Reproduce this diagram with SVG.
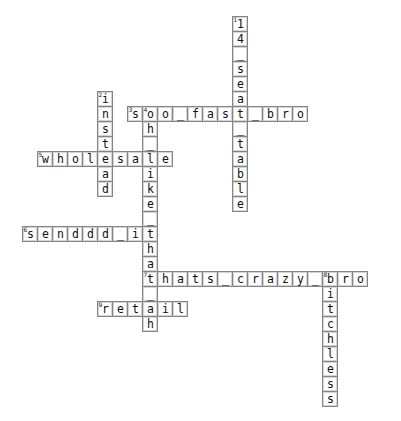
<svg xmlns="http://www.w3.org/2000/svg" width="401" height="421" viewBox="0 0 401 421">
<defs>
<style>
.c{fill:#fff;stroke:#858585;stroke-width:1}
.i{fill:none;stroke:#d4d4d4;stroke-width:1}
.l{font-family:"DejaVu Sans Mono","Liberation Mono",monospace;font-size:11.5px;fill:#111;text-anchor:middle}
.n{font-family:"DejaVu Sans","Liberation Sans",sans-serif;font-size:6px;fill:#222}
</style>
<g id="cell"><rect class="c" x="0.5" y="0.5" width="15" height="15"/><rect class="i" x="1.5" y="1.5" width="13" height="13"/></g>
</defs>
<rect width="401" height="421" fill="#fff"/>
<g id="connectors"></g>

<g id="w1_down_14_seat_table">
<use href="#cell" x="232" y="16"/><use href="#cell" x="232" y="31"/><use href="#cell" x="232" y="46"/><use href="#cell" x="232" y="61"/><use href="#cell" x="232" y="76"/><use href="#cell" x="232" y="91"/><use href="#cell" x="232" y="106"/><use href="#cell" x="232" y="121"/><use href="#cell" x="232" y="136"/><use href="#cell" x="232" y="151"/><use href="#cell" x="232" y="166"/><use href="#cell" x="232" y="181"/><use href="#cell" x="232" y="196"/>
<text class="n" x="233.5" y="22">1</text>
<text class="l" x="240.5" y="27.5">1</text><text class="l" x="240.5" y="42.5">4</text><text class="l" x="240.5" y="57.5">_</text><text class="l" x="240.5" y="72.5">s</text><text class="l" x="240.5" y="87.5">e</text><text class="l" x="240.5" y="102.5">a</text><text class="l" x="240.5" y="117.5">t</text><text class="l" x="240.5" y="132.5">_</text><text class="l" x="240.5" y="147.5">t</text><text class="l" x="240.5" y="162.5">a</text><text class="l" x="240.5" y="177.5">b</text><text class="l" x="240.5" y="192.5">l</text><text class="l" x="240.5" y="207.5">e</text>
</g>

<g id="w2_down_instead">
<use href="#cell" x="97" y="91"/><use href="#cell" x="97" y="106"/><use href="#cell" x="97" y="121"/><use href="#cell" x="97" y="136"/><use href="#cell" x="97" y="151"/><use href="#cell" x="97" y="166"/><use href="#cell" x="97" y="181"/>
<text class="n" x="98.5" y="97">2</text>
<text class="l" x="105.5" y="102.5">i</text><text class="l" x="105.5" y="117.5">n</text><text class="l" x="105.5" y="132.5">s</text><text class="l" x="105.5" y="147.5">t</text><text class="l" x="105.5" y="162.5">e</text><text class="l" x="105.5" y="177.5">a</text><text class="l" x="105.5" y="192.5">d</text>
</g>

<g id="w3_across_soo_fast_bro">
<use href="#cell" x="127" y="106"/><use href="#cell" x="142" y="106"/><use href="#cell" x="157" y="106"/><use href="#cell" x="172" y="106"/><use href="#cell" x="187" y="106"/><use href="#cell" x="202" y="106"/><use href="#cell" x="217" y="106"/><use href="#cell" x="247" y="106"/><use href="#cell" x="262" y="106"/><use href="#cell" x="277" y="106"/><use href="#cell" x="292" y="106"/>
<text class="n" x="128.5" y="112">3</text>
<text class="l" x="135.5" y="117.5">s</text><text class="l" x="150.5" y="117.5">o</text><text class="l" x="165.5" y="117.5">o</text><text class="l" x="180.5" y="117.5">_</text><text class="l" x="195.5" y="117.5">f</text><text class="l" x="210.5" y="117.5">a</text><text class="l" x="225.5" y="117.5">s</text><text class="l" x="255.5" y="117.5">_</text><text class="l" x="270.5" y="117.5">b</text><text class="l" x="285.5" y="117.5">r</text><text class="l" x="300.5" y="117.5">o</text>
</g>

<g id="w4_down_oh_like_that_ah">
<use href="#cell" x="142" y="121"/><use href="#cell" x="142" y="136"/><use href="#cell" x="142" y="151"/><use href="#cell" x="142" y="166"/><use href="#cell" x="142" y="181"/><use href="#cell" x="142" y="196"/><use href="#cell" x="142" y="211"/><use href="#cell" x="142" y="226"/><use href="#cell" x="142" y="241"/><use href="#cell" x="142" y="256"/><use href="#cell" x="142" y="271"/><use href="#cell" x="142" y="286"/><use href="#cell" x="142" y="301"/><use href="#cell" x="142" y="316"/>
<text class="n" x="143.5" y="112">4</text>
<text class="l" x="150.5" y="132.5">h</text><text class="l" x="150.5" y="147.5">_</text><text class="l" x="150.5" y="177.5">i</text><text class="l" x="150.5" y="192.5">k</text><text class="l" x="150.5" y="207.5">e</text><text class="l" x="150.5" y="222.5">_</text><text class="l" x="150.5" y="252.5">h</text><text class="l" x="150.5" y="267.5">a</text><text class="l" x="150.5" y="297.5">_</text><text class="l" x="150.5" y="327.5">h</text>
</g>

<g id="w5_across_wholesale">
<use href="#cell" x="37" y="151"/><use href="#cell" x="52" y="151"/><use href="#cell" x="67" y="151"/><use href="#cell" x="82" y="151"/><use href="#cell" x="112" y="151"/><use href="#cell" x="127" y="151"/><use href="#cell" x="157" y="151"/>
<text class="n" x="38.5" y="157">5</text>
<text class="l" x="45.5" y="162.5">w</text><text class="l" x="60.5" y="162.5">h</text><text class="l" x="75.5" y="162.5">o</text><text class="l" x="90.5" y="162.5">l</text><text class="l" x="120.5" y="162.5">s</text><text class="l" x="135.5" y="162.5">a</text><text class="l" x="150.5" y="162.5">l</text><text class="l" x="165.5" y="162.5">e</text>
</g>

<g id="w6_across_senddd_it">
<use href="#cell" x="22" y="226"/><use href="#cell" x="37" y="226"/><use href="#cell" x="52" y="226"/><use href="#cell" x="67" y="226"/><use href="#cell" x="82" y="226"/><use href="#cell" x="97" y="226"/><use href="#cell" x="112" y="226"/><use href="#cell" x="127" y="226"/>
<text class="n" x="23.5" y="232">6</text>
<text class="l" x="30.5" y="237.5">s</text><text class="l" x="45.5" y="237.5">e</text><text class="l" x="60.5" y="237.5">n</text><text class="l" x="75.5" y="237.5">d</text><text class="l" x="90.5" y="237.5">d</text><text class="l" x="105.5" y="237.5">d</text><text class="l" x="120.5" y="237.5">_</text><text class="l" x="135.5" y="237.5">i</text><text class="l" x="150.5" y="237.5">t</text>
</g>

<g id="w7_across_thats_crazy_bro">
<use href="#cell" x="157" y="271"/><use href="#cell" x="172" y="271"/><use href="#cell" x="187" y="271"/><use href="#cell" x="202" y="271"/><use href="#cell" x="217" y="271"/><use href="#cell" x="232" y="271"/><use href="#cell" x="247" y="271"/><use href="#cell" x="262" y="271"/><use href="#cell" x="277" y="271"/><use href="#cell" x="292" y="271"/><use href="#cell" x="307" y="271"/><use href="#cell" x="322" y="271"/><use href="#cell" x="337" y="271"/><use href="#cell" x="352" y="271"/>
<text class="n" x="143.5" y="277">7</text>
<text class="l" x="150.5" y="282.5">t</text><text class="l" x="165.5" y="282.5">h</text><text class="l" x="180.5" y="282.5">a</text><text class="l" x="195.5" y="282.5">t</text><text class="l" x="210.5" y="282.5">s</text><text class="l" x="225.5" y="282.5">_</text><text class="l" x="240.5" y="282.5">c</text><text class="l" x="255.5" y="282.5">r</text><text class="l" x="270.5" y="282.5">a</text><text class="l" x="285.5" y="282.5">z</text><text class="l" x="300.5" y="282.5">y</text><text class="l" x="315.5" y="282.5">_</text><text class="l" x="330.5" y="282.5">b</text><text class="l" x="345.5" y="282.5">r</text><text class="l" x="360.5" y="282.5">o</text>
</g>

<g id="w8_down_bitchless">
<use href="#cell" x="322" y="286"/><use href="#cell" x="322" y="301"/><use href="#cell" x="322" y="316"/><use href="#cell" x="322" y="331"/><use href="#cell" x="322" y="346"/><use href="#cell" x="322" y="361"/><use href="#cell" x="322" y="376"/><use href="#cell" x="322" y="391"/>
<text class="n" x="323.5" y="277">8</text>
<text class="l" x="330.5" y="297.5">i</text><text class="l" x="330.5" y="312.5">t</text><text class="l" x="330.5" y="327.5">c</text><text class="l" x="330.5" y="342.5">h</text><text class="l" x="330.5" y="357.5">l</text><text class="l" x="330.5" y="372.5">e</text><text class="l" x="330.5" y="387.5">s</text><text class="l" x="330.5" y="402.5">s</text>
</g>

<g id="w9_across_retail">
<use href="#cell" x="97" y="301"/><use href="#cell" x="112" y="301"/><use href="#cell" x="127" y="301"/><use href="#cell" x="157" y="301"/><use href="#cell" x="172" y="301"/>
<text class="n" x="98.5" y="307">9</text>
<text class="l" x="105.5" y="312.5">r</text><text class="l" x="120.5" y="312.5">e</text><text class="l" x="135.5" y="312.5">t</text><text class="l" x="150.5" y="312.5">a</text><text class="l" x="165.5" y="312.5">i</text><text class="l" x="180.5" y="312.5">l</text>
</g>
</svg>
